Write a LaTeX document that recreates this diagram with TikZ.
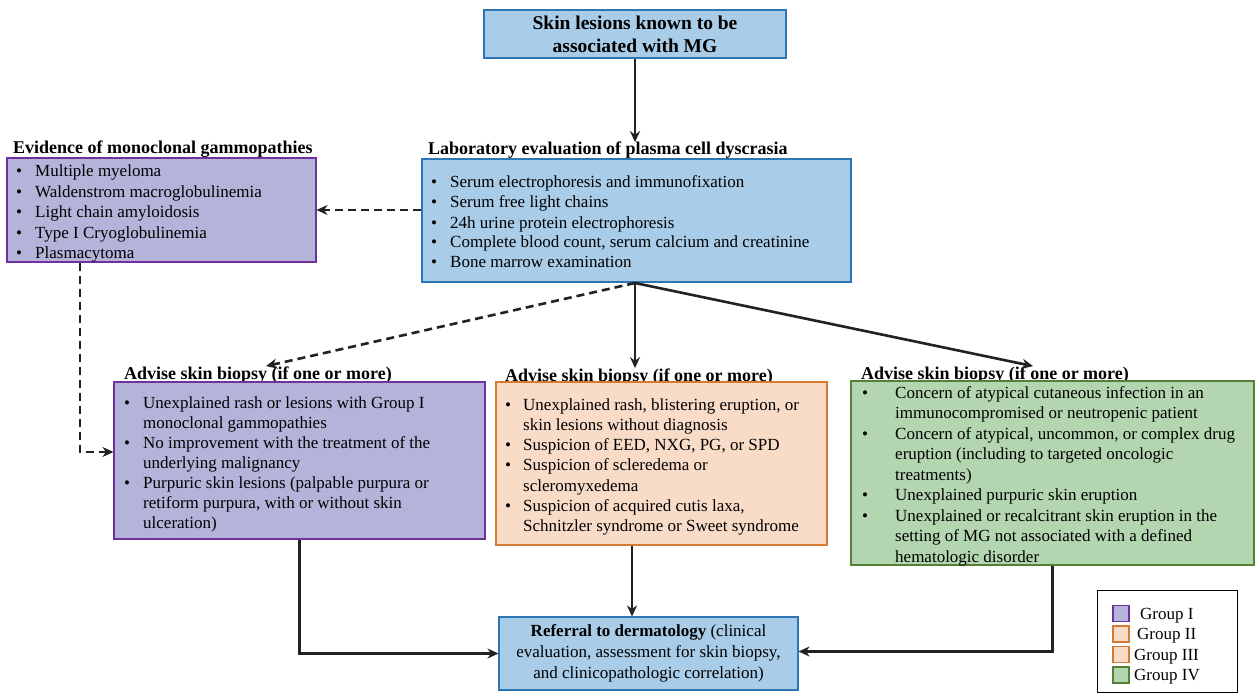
\documentclass[tikz,border=0pt]{standalone}
\usepackage{fontspec}
\setmainfont{Liberation Serif}
\usetikzlibrary{arrows.meta,calc}
\definecolor{blueF}{HTML}{A9CCE8}
\definecolor{blueD}{HTML}{2E75B6}
\definecolor{purpF}{HTML}{B4B4DA}
\definecolor{purpD}{HTML}{7030A0}
\definecolor{orF}{HTML}{F9DCC8}
\definecolor{orD}{HTML}{D37A35}
\definecolor{grF}{HTML}{B3D6B0}
\definecolor{grD}{HTML}{548235}
\definecolor{arrC}{HTML}{222222}
\newcommand\bi[1]{\makebox[#1][l]{\textbullet}}
\newenvironment{blist}{\begin{tabular}[t]{@{}l@{}}}{\end{tabular}}
\begin{document}
\begin{tikzpicture}[x=1pt,y=-1pt,
  box/.style={draw, line width=1.1pt, inner sep=0pt, rectangle},
  bluebox/.style={box, fill=blueF, draw=blueD},
  purpbox/.style={box, fill=purpF, draw=purpD},
  orbox/.style={box, fill=orF, draw=orD},
  grbox/.style={box, fill=grF, draw=grD},
  ttl/.style={font=\fontsize{18}{21}\selectfont\bfseries, anchor=base west, inner sep=0pt},
  lst/.style={font=\fontsize{17}{#1}\selectfont, anchor=base west, inner sep=0pt},
  lst/.default=20.4pt,
  arr/.style={line width=2.6pt, draw=arrC, -{Stealth[length=11pt,width=10pt]}},
  darr/.style={arr, dash pattern=on 8pt off 5pt},
  legtxt/.style={font=\fontsize{17}{20}\selectfont, anchor=base west, inner sep=0pt}
]
\useasboundingbox (0,0) rectangle (1255,695);
\fill[white] (0,0) rectangle (1255,695);

% top box
\node[bluebox, minimum width=302pt, minimum height=48pt, align=center,
  font=\fontsize{19.5}{23}\selectfont\bfseries] (top) at (635,34)
  {Skin lesions known to be\\associated with MG};

% lab
\node[ttl] (labttl) at (428,155) {Laboratory evaluation of plasma cell dyscrasia};
\node[bluebox, minimum width=429pt, minimum height=123pt] (lab) at (636.5,220.5) {};
\node[lst=20pt] (labtxt) at (431,188) {\begin{blist}\bi{19pt}Serum electrophoresis and immunofixation\\
\bi{19pt}Serum free light chains\\
\bi{19pt}24h urine protein electrophoresis\\
\bi{19pt}Complete blood count, serum calcium and creatinine\\
\bi{19pt}Bone marrow examination\end{blist}};

% evidence
\node[ttl] (evttl) at (13,154) {Evidence of monoclonal gammopathies};
\node[purpbox, minimum width=309pt, minimum height=104pt] (ev) at (161.5,210) {};
\node[lst=20.5pt] (evtxt) at (16,177) {\begin{blist}\bi{19pt}Multiple myeloma\\
\bi{19pt}Waldenstrom macroglobulinemia\\
\bi{19pt}Light chain amyloidosis\\
\bi{19pt}Type I Cryoglobulinemia\\
\bi{19pt}Plasmacytoma\end{blist}};

% group I
\node[ttl] (gIttl) at (124,379) {Advise skin biopsy (if one or more)};
\node[purpbox, minimum width=371pt, minimum height=157pt] (gI) at (299.5,460.5) {};
\node[lst=20pt] (gItxt) at (124,408) {\begin{blist}\bi{19pt}Unexplained rash or lesions with Group I\\
\hspace*{19pt}monoclonal gammopathies\\
\bi{19pt}No improvement with the treatment of the\\
\hspace*{19pt}underlying malignancy\\
\bi{19pt}Purpuric skin lesions (palpable purpura or\\
\hspace*{19pt}retiform purpura, with or without skin\\
\hspace*{19pt}ulceration)\end{blist}};

% group II
\node[ttl] (gIIttl) at (505,381) {Advise skin biopsy (if one or more)};
\node[orbox, minimum width=331pt, minimum height=163pt] (gII) at (661.5,463.5) {};
\node[lst=20.3pt] (gIItxt) at (505,410) {\begin{blist}\bi{18pt}Unexplained rash, blistering eruption, or\\
\hspace*{18pt}skin lesions without diagnosis\\
\bi{18pt}Suspicion of EED, NXG, PG, or SPD\\
\bi{18pt}Suspicion of scleredema or\\
\hspace*{18pt}scleromyxedema\\
\bi{18pt}Suspicion of acquired cutis laxa,\\
\hspace*{18pt}Schnitzler syndrome or Sweet syndrome\end{blist}};

% group III
\node[ttl] (gIIIttl) at (861,379) {Advise skin biopsy (if one or more)};
\node[grbox, minimum width=403pt, minimum height=184pt] (gIII) at (1052.5,473) {};
\node[lst=20.5pt] (gIIItxt) at (862,398) {\begin{blist}\bi{33pt}Concern of atypical cutaneous infection in an\\
\hspace*{33pt}immunocompromised or neutropenic patient\\
\bi{33pt}Concern of atypical, uncommon, or complex drug\\
\hspace*{33pt}eruption (including to targeted oncologic\\
\hspace*{33pt}treatments)\\
\bi{33pt}Unexplained purpuric skin eruption\\
\bi{33pt}Unexplained or recalcitrant skin eruption in the\\
\hspace*{33pt}setting of MG not associated with a defined\\
\hspace*{33pt}hematologic disorder\end{blist}};

% referral
\node[bluebox, minimum width=299pt, minimum height=73pt, align=center,
  font=\fontsize{17}{21}\selectfont] (ref) at (648.5,653.5)
  {\textbf{Referral to dermatology} (clinical\\evaluation, assessment for skin biopsy,\\and clinicopathologic correlation)};

% legend
\node[box, draw=black, line width=1pt, minimum width=140pt, minimum height=102pt] (leg) at (1167,641) {};
\node[box, fill=purpF, draw=purpD, minimum size=16pt] (sw1) at (1121,613.5) {};
\node[box, fill=orF, draw=orD, minimum size=16pt] (sw2) at (1121,634) {};
\node[box, fill=orF, draw=orD, minimum size=16pt] (sw3) at (1121,654.5) {};
\node[box, fill=grF, draw=grD, minimum size=16pt] (sw4) at (1121,675) {};
\node[legtxt] (lg1) at (1140,619) {Group I};
\node[legtxt] (lg2) at (1137,639.5) {Group II};
\node[legtxt] (lg3) at (1134,660) {Group III};
\node[legtxt] (lg4) at (1134,680.5) {Group IV};

% connectors
\draw[arr] (top.south) -- (top.south |- labttl.north);
\draw[darr] (lab.west |- ev.east) -- (ev.east);
\coordinate (c1) at (80,452);
\draw[darr] (ev.south -| c1) -- (c1) -- (gI.west |- c1);
\coordinate (lo) at (635,283);
\draw[darr] (lo) -- ($(gIttl.north)+(8,0)$);
\draw[arr] (lo) -- (lo |- gIIttl.north);
\draw[arr] (lo) -- ($(gIIIttl.north)+(38,0)$);
\draw[arr] (gI.south) |- (ref.west);
\coordinate (c2) at (632,0);
\draw[arr] (gII.south -| c2) -- (ref.north -| c2);
\draw[arr] (gIII.south) |- ($(ref.east)+(0,-2)$);
\end{tikzpicture}
\end{document}
